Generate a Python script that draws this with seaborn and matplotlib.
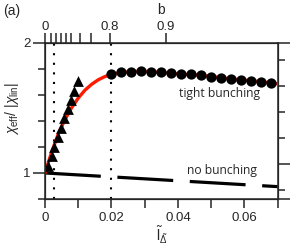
import matplotlib
matplotlib.use("Agg")
import matplotlib.pyplot as plt
import seaborn as sns

# triangles (low intensity branch)
tri_x = [0.0010, 0.0020, 0.0028, 0.0038, 0.0048, 0.0058, 0.0068, 0.0078, 0.0088, 0.0098]
tri_y = [1.056, 1.127, 1.199, 1.276, 1.345, 1.421, 1.490, 1.561, 1.632, 1.704]

# circles (tight bunching)
circ_x = [0.020, 0.023, 0.026, 0.029, 0.032, 0.035, 0.038, 0.041, 0.044,
          0.047, 0.050, 0.053, 0.056, 0.059, 0.062, 0.065, 0.068]
circ_y = [1.758, 1.773, 1.778, 1.783, 1.778, 1.773, 1.766, 1.758, 1.756,
          1.753, 1.740, 1.732, 1.722, 1.714, 1.709, 1.701, 1.691]

# red model curve
red_x = [0.0, 0.002, 0.004, 0.006, 0.008, 0.010, 0.012, 0.014, 0.016, 0.018,
         0.020, 0.023, 0.026, 0.029, 0.032, 0.035, 0.038, 0.041, 0.044, 0.047,
         0.050, 0.053, 0.056, 0.059, 0.062, 0.065, 0.068, 0.070]
red_y = [1.00, 1.16, 1.30, 1.41, 1.50, 1.575, 1.635, 1.68, 1.715, 1.74,
         1.757, 1.772, 1.778, 1.781, 1.777, 1.772, 1.765, 1.758, 1.755, 1.750,
         1.740, 1.731, 1.721, 1.714, 1.708, 1.700, 1.691, 1.685]

# no bunching line
nob_x = [0.0, 0.070]
nob_y = [1.0, 0.895]

# dotted markers
vlines_x = [0.0027, 0.0199]

# top axis (b)
b_pos = [0.0, 0.0019, 0.0034, 0.0049, 0.0064, 0.0079, 0.0104, 0.0138, 0.0196, 0.0364]
b_labels = ["0", "", "", "", "", "", "", "", "0.8", "0.9"]

sns.set_style("ticks")
plt.rcParams["font.family"] = ["Liberation Sans", "DejaVu Sans"]
plt.rcParams["mathtext.fontset"] = "custom"
plt.rcParams["mathtext.rm"] = "Liberation Sans"
plt.rcParams["mathtext.it"] = "Liberation Sans:italic"

fig = plt.figure(figsize=(2.91, 2.46), dpi=100)
ax = fig.add_axes([0.1546, 0.191, 0.7997, 0.6354])

for xv in vlines_x:
    ax.axvline(xv, color="black", lw=1.5, ls=(0, (1, 3.6)), zorder=1)

sns.lineplot(x=nob_x, y=nob_y, ax=ax, color="black", lw=2.3,
             linestyle=(0, (17.5, 5.2)), zorder=2)
sns.lineplot(x=red_x, y=red_y, ax=ax, color="#ff1a00", lw=2.4, zorder=3)
sns.scatterplot(x=tri_x, y=tri_y, ax=ax, marker="^", s=60, color="black",
                edgecolor="black", linewidth=0, zorder=4)
sns.scatterplot(x=circ_x, y=circ_y, ax=ax, marker="o", s=55, color="black",
                edgecolor="black", linewidth=0, zorder=4)

ax.set_xlim(0, 0.07)
ax.set_ylim(0.8, 2.0)
ax.set_xticks([0, 0.02, 0.04, 0.06])
ax.set_xticklabels(["0", "0.02", "0.04", "0.06"])
ax.set_xticks([0.01, 0.03, 0.05, 0.07], minor=True)
ax.set_yticks([1, 2])
ax.set_yticklabels(["1", "2"])
ax.set_yticks([0.8, 1.2, 1.4, 1.6, 1.8], minor=True)
ax.tick_params(axis="x", which="both", direction="out", length=6.5, width=1.1,
               labelsize=9.5, pad=2.5)
ax.tick_params(axis="y", which="major", direction="out", length=8.5, width=1.1,
               labelsize=9.5, pad=2)
ax.tick_params(axis="y", which="minor", direction="out", length=5, width=1.1)
for s in ax.spines.values():
    s.set_linewidth(1.1)
    s.set_visible(True)

ax.set_xlabel(r"$\tilde{\mathrm{l}}_{\tilde{\Delta}}$", fontsize=10, labelpad=1)
ax.set_ylabel(r"$\chi_{\mathrm{eff}}$/ |$\chi_{\mathrm{lin}}$|", fontsize=10)
ax.yaxis.set_label_coords(-0.105, 0.58)

ax.text(0.0524, 1.607, "tight bunching", ha="center", va="center", fontsize=8.7,
        family=["Open Sans", "DejaVu Sans"])
ax.text(0.0532, 1.02, "no bunching", ha="center", va="center", fontsize=8.7,
        family=["Open Sans", "DejaVu Sans"])

# top axis b
axt = ax.twiny()
axt.set_xlim(ax.get_xlim())
axt.set_xticks(b_pos)
axt.set_xticklabels(b_labels)
axt.tick_params(axis="x", direction="out", length=7, width=1.1, labelsize=9.5, pad=0)
axt.set_xlabel("b", fontsize=10, labelpad=5)
axt.xaxis.set_minor_locator(matplotlib.ticker.NullLocator())

# right axis ticks
axr = ax.twinx()
axr.set_ylim(ax.get_ylim())
axr.set_yticks([0.8, 1.07, 2.0])
axr.set_yticklabels([])
axr.set_yticks([0.87, 1.27, 1.47, 1.67, 1.87], minor=True)
axr.tick_params(axis="y", which="major", direction="out", length=8.5, width=1.1)
axr.tick_params(axis="y", which="minor", direction="out", length=5, width=1.1)

fig.text(0.01, 0.985, "(a)", ha="left", va="top", fontsize=10)

fig.savefig("out.png", dpi=100)
